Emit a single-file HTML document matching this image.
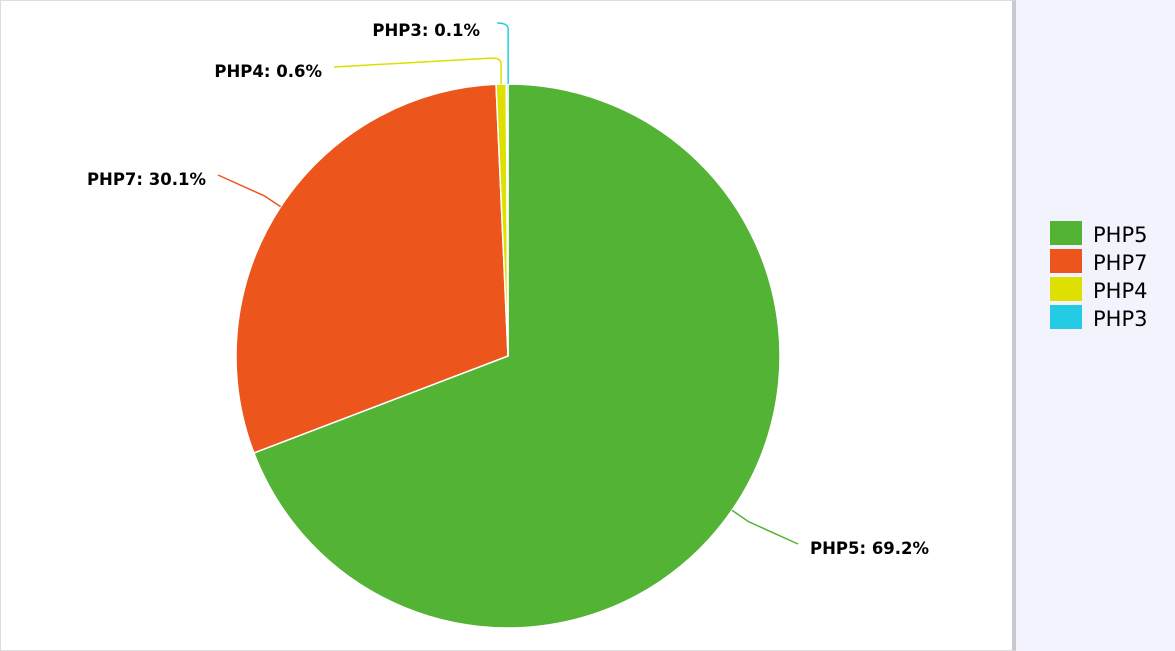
<!DOCTYPE html>
<html><head><meta charset="utf-8"><style>
body{margin:0;width:1175px;height:651px;overflow:hidden;background:#f3f3fd;font-family:"Liberation Sans",sans-serif}
#panel{position:absolute;left:0;top:0;width:1011px;height:649px;background:#fff;border:1px solid #ddd;border-right:4px solid #c8c8d0}
svg{position:absolute;left:0;top:0}
</style></head><body>
<div id="panel"></div>
<svg id="chart" width="1175" height="651"></svg>
<script>
const categories=["PHP5","PHP7","PHP4","PHP3"];
const values=[69.2,30.1,0.6,0.1];
const colors=["#52b334","#ec561c","#dde000","#24cbe5"];
const labelPos=[[810,554,"start"],[206,185,"end"],[322,77,"end"],[480,36,"end"]];
const NS="http://www.w3.org/2000/svg";
const svg=document.getElementById('chart');
const cx=508,cy=356,r=272;
const total=values.reduce((a,b)=>a+b,0);
function pt(a,rr){return [cx+rr*Math.sin(a),cy-rr*Math.cos(a)];}
let a0=0;
values.forEach((v,i)=>{
  const a1=a0+v/total*2*Math.PI;
  const p0=pt(a0,r),p1=pt(a1,r);
  const path=document.createElementNS(NS,'path');
  path.setAttribute('d',`M${cx},${cy}L${p0[0]},${p0[1]}A${r},${r} 0 ${a1-a0>Math.PI?1:0} 1 ${p1[0]},${p1[1]}Z`);
  path.setAttribute('fill',colors[i]);path.setAttribute('stroke','#fff');path.setAttribute('stroke-width','1.5');
  
  
  svg.appendChild(path);
  const am=(a0+a1)/2;
  const e=pt(am,r),m=pt(am,r+20);
  const lp=labelPos[i];
  const ly=lp[1]-10;
  const endX=lp[2]==="start"?lp[0]-12:lp[0]+12;
  const line=document.createElementNS(NS,'path');
  let d;
  if(i===2)d=`M${e[0]},${e[1]}L${e[0]},${ly-2} Q${e[0]},${ly-9} ${e[0]-8},${ly-9} L${endX},${ly}`;
  else if(i===3)d=`M${e[0]+1},${e[1]}L${e[0]+1},${ly+3} Q${e[0]+1},${ly-3} ${e[0]-10},${ly-3}`;
  else d=`M${e[0]},${e[1]}L${m[0]},${m[1]}L${endX},${ly}`;
  line.setAttribute('d',d);line.setAttribute('fill','none');line.setAttribute('stroke',colors[i]);line.setAttribute('stroke-width','1.5');
  
  
  svg.appendChild(line);
  const t=document.createElementNS(NS,'text');
  t.setAttribute('x',lp[0]);t.setAttribute('y',lp[1]);t.setAttribute('text-anchor',lp[2]);
  t.setAttribute('font-size','16.5');t.setAttribute('font-weight','bold');t.setAttribute('fill','#000');
  t.setAttribute('font-family','DejaVu Sans, sans-serif');
  t.textContent=categories[i]+": "+values[i].toFixed(1)+"%";
  
  
  svg.appendChild(t);
  a0=a1;
});
categories.forEach((c,i)=>{
  const g=document.createElementNS(NS,'g');
  
  
  const rc=document.createElementNS(NS,'rect');
  rc.setAttribute('x',1050);rc.setAttribute('y',221+i*28);rc.setAttribute('width',32);rc.setAttribute('height',24);rc.setAttribute('fill',colors[i]);
  const t=document.createElementNS(NS,'text');
  t.setAttribute('x',1093);t.setAttribute('y',242+i*28);t.setAttribute('font-size','21');
  t.setAttribute('font-family','DejaVu Sans, sans-serif');t.setAttribute('fill','#000');
  t.textContent=c;
  g.appendChild(rc);g.appendChild(t);svg.appendChild(g);
});
</script>
</body></html>
